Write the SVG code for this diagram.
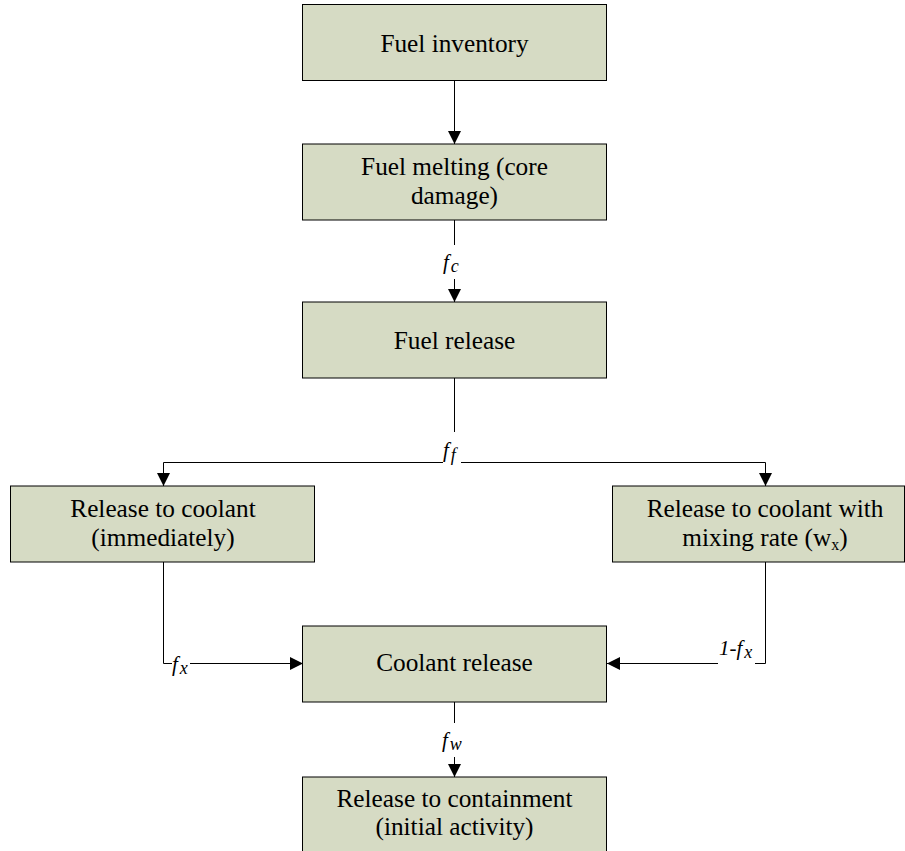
<svg xmlns="http://www.w3.org/2000/svg" width="905" height="851" viewBox="0 0 905 851">
<defs>
<marker id="arr" markerWidth="13" markerHeight="13" refX="13" refY="6.5" orient="auto" markerUnits="userSpaceOnUse">
<path d="M0,0 L13,6.5 L0,13 z" fill="#000"/>
</marker>
<style>
.box{fill:#D6DBC4;stroke:#000;stroke-width:1}
.ln{fill:none;stroke:#000;stroke-width:1}
</style>
</defs>
<rect width="905" height="851" fill="#fff"/>
<g id="connectors">
<path class="ln" d="M454.5,81 V144" marker-end="url(#arr)"/>
<path class="ln" d="M454.5,220 V245"/>
<path class="ln" d="M454.5,279 V302" marker-end="url(#arr)"/>
<path class="ln" d="M454.5,378 V432"/>
<path class="ln" d="M443,462.5 H163.5 V486" marker-end="url(#arr)"/>
<path class="ln" d="M461,462.5 H765.5 V486" marker-end="url(#arr)"/>
<path class="ln" d="M163.5,562 V663.5 H172"/>
<path class="ln" d="M190,663.5 H303" marker-end="url(#arr)"/>
<path class="ln" d="M765.5,562 V663.5 H755"/>
<path class="ln" d="M718,663.5 H607" marker-end="url(#arr)"/>
<path class="ln" d="M454.5,702 V723"/>
<path class="ln" d="M454.5,757 V777" marker-end="url(#arr)"/>
<g font-family="Liberation Serif, Times New Roman, DejaVu Serif, serif" font-style="italic" font-size="21" fill="#000">
<text x="443" y="269">f<tspan font-size="18" dx="2" dy="3">c</tspan></text>
<text x="443" y="457">f<tspan font-size="18" dx="2" dy="4">f</tspan></text>
<text x="172" y="671">f<tspan font-size="18" dx="2" dy="3">x</tspan></text>
<text x="719" y="655">1-f<tspan font-size="18" dx="2" dy="3">x</tspan></text>
<text x="442" y="747">f<tspan font-size="18" dx="2" dy="3">w</tspan></text>
</g>
</g>
<g font-family="Liberation Serif, Times New Roman, DejaVu Serif, serif" font-size="25.3" fill="#000" text-anchor="middle">
<g id="fuel-inventory">
<rect class="box" x="302.5" y="4.5" width="304" height="76"/>
<text x="454.5" y="52">Fuel inventory</text>
</g>
<g id="fuel-melting">
<rect class="box" x="302.5" y="144" width="304" height="76"/>
<text x="454.5" y="175">Fuel melting (core</text>
<text x="454.5" y="204">damage)</text>
</g>
<g id="fuel-release">
<rect class="box" x="302.5" y="302" width="304" height="76"/>
<text x="454.5" y="348.5">Fuel release</text>
</g>
<g id="release-coolant-immediate">
<rect class="box" x="10.5" y="486" width="304" height="76"/>
<text x="163" y="517">Release to coolant</text>
<text x="163" y="546">(immediately)</text>
</g>
<g id="release-coolant-mixing">
<rect class="box" x="612.5" y="486" width="292" height="76"/>
<text x="765" y="517">Release to coolant with</text>
<text x="765" y="546">mixing rate (w<tspan font-size="16" dy="4">x</tspan><tspan dy="-4">)</tspan></text>
</g>
<g id="coolant-release">
<rect class="box" x="302.5" y="626" width="304" height="76"/>
<text x="454.5" y="671">Coolant release</text>
</g>
<g id="release-containment">
<rect class="box" x="302.5" y="777" width="304" height="80"/>
<text x="454.5" y="806.5">Release to containment</text>
<text x="454.5" y="835">(initial activity)</text>
</g>
</g>
</svg>
